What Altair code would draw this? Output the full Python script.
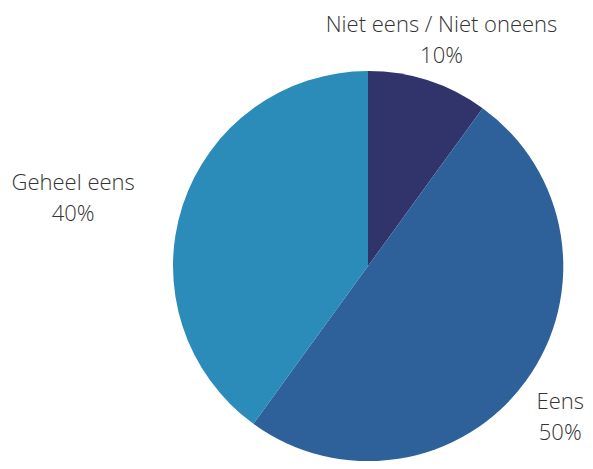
import altair as alt
import pandas as pd

categories = ["Niet eens / Niet oneens", "Eens", "Geheel eens"]
values = [10, 50, 40]
percent_labels = ["10%", "50%", "40%"]
colors = ["#30346a", "#2e6099", "#2b8bb9"]

df = pd.DataFrame({
    "cat": categories,
    "val": values,
    "order": list(range(len(categories))),
    "label": [c + "\n" + p for c, p in zip(categories, percent_labels)],
})

pie = alt.Chart(df).mark_arc(outerRadius=195).encode(
    theta=alt.Theta("val:Q", stack=True),
    order=alt.Order("order:Q"),
    color=alt.Color("cat:N", scale=alt.Scale(domain=categories, range=colors), legend=None),
)

txt_base = alt.Chart(df).transform_window(
    cum="sum(val)", sort=[alt.SortField("order")], frame=[None, 0]
).transform_joinaggregate(
    total="sum(val)"
).transform_calculate(
    frac="(datum.cum - datum.val / 2) / datum.total"
).encode(
    theta=alt.Theta("frac:Q", scale=alt.Scale(domain=[0, 1]), stack=None),
    text="label:N",
)

style = dict(fontSize=22, font="Open Sans", fontWeight=300, color="#333333",
             lineBreak="\n", lineHeight=31, baseline="middle", align="center")

txt_niet = txt_base.mark_text(radius=238, dy=-15, **style).transform_filter(
    alt.datum.cat == "Niet eens / Niet oneens")
txt_eens = txt_base.mark_text(radius=250, dx=-10, dy=-11, **style).transform_filter(
    alt.datum.cat == "Eens")
txt_geheel = txt_base.mark_text(radius=310, dy=13, **style).transform_filter(
    alt.datum.cat == "Geheel eens")

chart = alt.layer(pie, txt_niet, txt_eens, txt_geheel).resolve_scale(theta="independent").properties(
    width=434, height=390,
    padding={"left": 143, "top": 63, "right": 0, "bottom": 0},
    autosize=alt.AutoSizeParams(type="none"),
).configure_view(stroke=None)

chart.save("out.html", embed_options={"renderer": "svg", "actions": False})
